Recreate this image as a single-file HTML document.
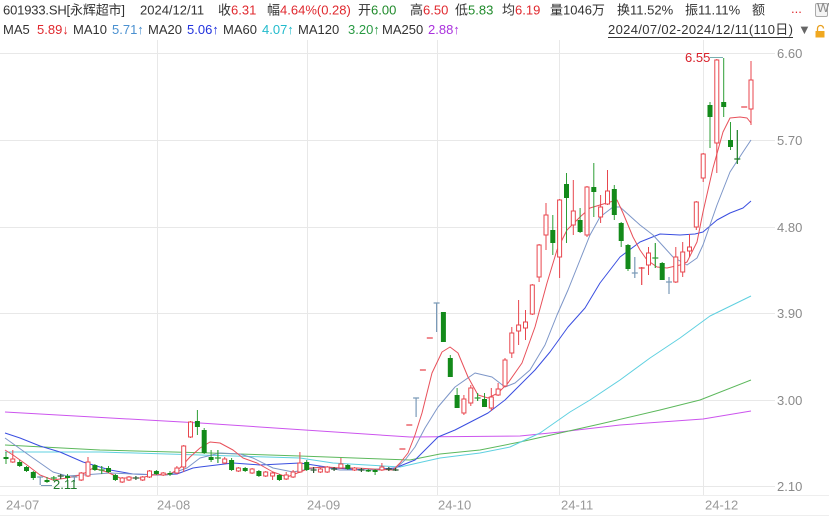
<!DOCTYPE html>
<html><head><meta charset="utf-8"><style>
html,body{margin:0;padding:0;background:#fff;}
svg{display:block;}
text{font-family:"Liberation Sans","Noto Sans CJK SC",sans-serif;font-size:13px;}
</style></head><body>
<svg width="829" height="516" viewBox="0 0 829 516" xmlns="http://www.w3.org/2000/svg">
<rect width="829" height="516" fill="#fff"/>
<g fill="#333">
<text x="3" y="14.5" textLength="122">601933.SH[永辉超市]</text>
<text x="140" y="14.5">2024/12/11</text>
<text x="218" y="14.5">收<tspan fill="#e0282e">6.31</tspan></text>
<text x="267" y="14.5">幅<tspan fill="#e0282e">4.64%(0.28)</tspan></text>
<text x="358" y="14.5">开<tspan fill="#1f8a2a">6.00</tspan></text>
<text x="410" y="14.5">高<tspan fill="#e0282e">6.50</tspan></text>
<text x="455" y="14.5">低<tspan fill="#1f8a2a">5.83</tspan></text>
<text x="502" y="14.5">均<tspan fill="#e0282e">6.19</tspan></text>
<text x="550" y="14.5">量1046万</text>
<text x="617" y="14.5">换11.52%</text>
<text x="685" y="14.5">振11.11%</text>
<text x="752" y="14.5">额</text>
</g>
<text x="791" y="13" font-size="11" fill="#e0282e">...</text>
<rect x="815.5" y="3.5" width="12" height="13" rx="1.5" fill="#f4f4f4" stroke="#aaa"/>
<text x="817" y="12" font-size="6" fill="#888">WP</text>
<g fill="#333">
<text x="3" y="34">MA5</text>
<text x="73" y="34">MA10</text>
<text x="148" y="34">MA20</text>
<text x="223" y="34">MA60</text>
<text x="298" y="34">MA120</text>
<text x="382" y="34">MA250</text>
<text x="608" y="34" textLength="185">2024/07/02-2024/12/11(110日)</text>
</g>
<line x1="608" y1="37.5" x2="793" y2="37.5" stroke="#333" stroke-width="1"/>
<text x="37" y="34" fill="#e0282e">5.89↓</text>
<text x="112" y="34" fill="#4a90d0">5.71↑</text>
<text x="187" y="34" fill="#2233dd">5.06↑</text>
<text x="262" y="34" fill="#22bbcc">4.07↑</text>
<text x="348" y="34" fill="#2a9a44">3.20↑</text>
<text x="428" y="34" fill="#aa33dd">2.88↑</text>
<text x="798" y="34" font-size="11" fill="#666">▼</text>
<path d="M817.5 31 V28.5 A3 3 0 0 1 823.5 28.5" fill="none" stroke="#e8a020" stroke-width="1.3"/>
<rect x="815.5" y="31" width="9" height="6.5" fill="#f0a820"/>

<g stroke="#e8e8e8" stroke-width="1">
<line x1="0" y1="53.5" x2="775" y2="53.5"/>
<line x1="0" y1="140.5" x2="775" y2="140.5"/>
<line x1="0" y1="227.5" x2="775" y2="227.5"/>
<line x1="0" y1="313.5" x2="775" y2="313.5"/>
<line x1="0" y1="400.5" x2="775" y2="400.5"/>
<line x1="0" y1="486.5" x2="775" y2="486.5"/>
<line x1="157.5" y1="40" x2="157.5" y2="495"/>
<line x1="307.5" y1="40" x2="307.5" y2="495"/>
<line x1="437.5" y1="40" x2="437.5" y2="495"/>
<line x1="559.5" y1="40" x2="559.5" y2="495"/>
<line x1="703.5" y1="40" x2="703.5" y2="495"/>
</g>
<line x1="0" y1="495.5" x2="829" y2="495.5" stroke="#eee"/>
<line x1="0" y1="515.5" x2="829" y2="515.5" stroke="#eee"/>
<g fill="#8a8a8a">
<text x="777" y="58">6.60</text>
<text x="777" y="145">5.70</text>
<text x="777" y="232">4.80</text>
<text x="777" y="318">3.90</text>
<text x="777" y="405">3.00</text>
<text x="777" y="491">2.10</text>
</g>
<g fill="#999">
<text x="6" y="509.5">24-07</text>
<text x="157" y="509.5">24-08</text>
<text x="307" y="509.5">24-09</text>
<text x="438" y="509.5">24-10</text>
<text x="561" y="509.5">24-11</text>
<text x="705" y="509.5">24-12</text>
</g>

<g fill="none" stroke-width="1" stroke-linejoin="round">
<polyline stroke="#cc55ee" points="5,412 200,423 410,437 520,436 560,432 620,425 703,419 751,411"/>
<polyline stroke="#5cb85c" points="5,445 100,450 210,453 300,456 410,460 440,454 480,450 520,442 560,433 600,424 660,410 700,400 751,380"/>
<polyline stroke="#5fd0e0" points="5,452 100,452 200,455 300,458 333,463 400,467 440,458 480,453 510,447 540,433 570,412 590,400 620,380 650,358 680,338 710,316 751,296"/>
<polyline stroke="#3a4ee0" points="5,433 20,438 40,446 60,452 83,462 110,470 133,474 157,475 177,474 193,468 200,467 233,463 260,465 300,463 333,468 367,470 395,468 415,460 425,450 438,437 455,430 488,413 505,400 520,385 535,370 550,352 568,327 585,308 600,283 620,257 640,242 660,234 680,235 695,234 703,232 717,220 730,213 743,208 751,201"/>
<polyline stroke="#7d96c8" points="5,438 33,458 53,472 67,476 83,475 110,473 133,474 167,475 187,468 200,458 220,453 240,454 253,458 273,468 293,472 320,467 340,470 380,470 395,469 405,460 415,447 425,428 438,407 455,387 475,373 492,377 505,387 515,383 530,370 545,345 557,315 568,290 580,260 590,235 600,217 613,207 620,207 640,225 653,235 673,257 687,265 697,258 703,245 717,205 730,172 743,152 751,140"/>
<polyline stroke="#e8505a" points="5,450 13,455 27,465 40,475 53,480 67,478 80,475 87,472 93,468 107,472 120,478 140,478 153,475 170,474 180,468 190,457 200,448 210,442 220,443 233,450 243,458 257,463 273,472 287,477 300,472 310,468 327,467 340,468 357,468 373,469 393,470 400,463 408,453 415,435 422,413 432,373 442,352 450,347 458,353 468,377 478,395 488,398 498,393 508,383 522,363 535,327 547,283 557,250 567,230 580,217 590,208 600,205 610,202 617,200 623,213 633,237 640,250 647,260 657,267 667,268 680,265 687,262 697,242 703,212 713,168 723,132 730,118 740,117 747,118 751,123"/>
</g>

<path fill="none" stroke="#e8464e" stroke-width="1" d="M12.8 450V459M12.8 462V463M81.2 472V473M81.2 480V481M88 457V462M88 476V477M122.2 477V478M122.2 482V483M129 476V477M129 480V481M142.7 476V477M142.7 480V481M149.5 470V471M149.5 477V478M163.2 472V473M163.2 475V476M176.9 466V468M176.9 473V474M183.7 445V446M183.7 467V472M190.5 421V422M190.5 437V438M224.7 457V459M224.7 463V464M238.4 467V468M238.4 471V472M252.1 468V469M252.1 473V474M265.7 471V472M265.7 476V477M272.6 472V473M272.6 476V480M286.2 472V475M286.2 479V480M293.1 470V472M293.1 477V478M299.9 452V463M299.9 472V473M320.4 468V469M320.4 472V473M327.2 466V467M327.2 472V473M340.9 458V464M340.9 468V469M354.6 467V468M354.6 470V471M381.9 463V467M381.9 470V471M463.9 395V399M463.9 413V415M470.8 385V388M470.8 403V406M491.3 388V397M491.3 408V411M498.1 383V389M498.1 395V396M505 358V360M505 386V387M511.8 327V333M511.8 353V358M518.6 300V325M518.6 331V345M525.5 310V322M525.5 328V340M532.3 284V285M532.3 314V315M539.1 244V245M539.1 277V282M546 203V215M546 235V250M559.6 199V200M559.6 257V278M573.3 180V211M573.3 225V235M587 186V187M587 235V237M600.6 195V207M600.6 217V223M607.5 170V191M607.5 204V205M648.5 247V253M648.5 265V275M675.8 247V257M675.8 282V283M682.7 242V252M682.7 272V277M689.5 234V247M689.5 251V257M696.3 201V202M696.3 227V230M703.2 153V154M703.2 178V182M716.8 59V60M716.8 143V173M751 61V80M751 109V125"/>
<g fill="#fff" stroke="#e8464e" stroke-width="1">
<rect x="10.8" y="459" width="4" height="3"/>
<rect x="79.2" y="473" width="4" height="7"/>
<rect x="86" y="462" width="4" height="14"/>
<rect x="120.2" y="478" width="4" height="4"/>
<rect x="127" y="477" width="4" height="3"/>
<rect x="140.7" y="477" width="4" height="3"/>
<rect x="147.5" y="471" width="4" height="6"/>
<rect x="161.2" y="473" width="4" height="2"/>
<rect x="174.9" y="468" width="4" height="5"/>
<rect x="181.7" y="446" width="4" height="21"/>
<rect x="188.5" y="422" width="4" height="15"/>
<rect x="222.7" y="459" width="4" height="4"/>
<rect x="236.4" y="468" width="4" height="3"/>
<rect x="250.1" y="469" width="4" height="4"/>
<rect x="263.7" y="472" width="4" height="4"/>
<rect x="270.6" y="473" width="4" height="3"/>
<rect x="284.2" y="475" width="4" height="4"/>
<rect x="291.1" y="472" width="4" height="5"/>
<rect x="297.9" y="463" width="4" height="9"/>
<rect x="318.4" y="469" width="4" height="3"/>
<rect x="325.2" y="467" width="4" height="5"/>
<rect x="338.9" y="464" width="4" height="4"/>
<rect x="352.6" y="468" width="4" height="2"/>
<rect x="379.9" y="467" width="4" height="3"/>
<rect x="461.9" y="399" width="4" height="14"/>
<rect x="468.8" y="388" width="4" height="15"/>
<rect x="489.3" y="397" width="4" height="11"/>
<rect x="496.1" y="389" width="4" height="6"/>
<rect x="503" y="360" width="4" height="26"/>
<rect x="509.8" y="333" width="4" height="20"/>
<rect x="516.6" y="325" width="4" height="6"/>
<rect x="523.5" y="322" width="4" height="6"/>
<rect x="530.3" y="285" width="4" height="29"/>
<rect x="537.1" y="245" width="4" height="32"/>
<rect x="544" y="215" width="4" height="20"/>
<rect x="557.6" y="200" width="4" height="57"/>
<rect x="571.3" y="211" width="4" height="14"/>
<rect x="585" y="187" width="4" height="48"/>
<rect x="598.6" y="207" width="4" height="10"/>
<rect x="605.5" y="191" width="4" height="13"/>
<rect x="646.5" y="253" width="4" height="12"/>
<rect x="673.8" y="257" width="4" height="25"/>
<rect x="680.7" y="252" width="4" height="20"/>
<rect x="687.5" y="247" width="4" height="4"/>
<rect x="694.3" y="202" width="4" height="25"/>
<rect x="701.2" y="154" width="4" height="24"/>
<rect x="714.8" y="60" width="4" height="83"/>
<rect x="749" y="80" width="4" height="29"/>
</g>
<path fill="none" stroke="#2e9e36" stroke-width="1" d="M6 452V464M19.7 460V467M26.5 466V472M33.3 471V480M47 477V483M67.5 474V480M94.9 464V471M108.5 466V473M115.4 474V481M156.4 470V475M170 471V476M197.4 410V435M204.2 428V454M211.1 450V462M231.6 458V471M245.2 467V472M258.9 470V477M279.4 474V481M306.7 460V471M347.8 464V470M368.3 469V472M375.1 469V475M443.4 312V342M450.3 355V377M457.1 388V408M484.5 393V407M552.8 215V255M566.5 173V243M580.1 208V233M593.8 163V217M614.3 185V220M621.2 222V247M628 244V271M662.2 262V280M710 102V148M723.7 58V117M730.5 122V150"/>
<g fill="#138a1a">
<rect x="3.5" y="457" width="5" height="2"/>
<rect x="17.2" y="462" width="5" height="4"/>
<rect x="24" y="467" width="5" height="4"/>
<rect x="30.8" y="472" width="5" height="6"/>
<rect x="44.5" y="480" width="5" height="2"/>
<rect x="65" y="476" width="5" height="2"/>
<rect x="92.4" y="465" width="5" height="5"/>
<rect x="106" y="468" width="5" height="4"/>
<rect x="112.9" y="475" width="5" height="5"/>
<rect x="153.9" y="471" width="5" height="3"/>
<rect x="167.5" y="473" width="5" height="1.5"/>
<rect x="194.9" y="421" width="5" height="6"/>
<rect x="201.7" y="430" width="5" height="23"/>
<rect x="208.6" y="457" width="5" height="3"/>
<rect x="229.1" y="460" width="5" height="10"/>
<rect x="242.7" y="468" width="5" height="3"/>
<rect x="256.4" y="471" width="5" height="5"/>
<rect x="276.9" y="475" width="5" height="5"/>
<rect x="304.2" y="462" width="5" height="8"/>
<rect x="345.3" y="465" width="5" height="4"/>
<rect x="365.8" y="470" width="5" height="1.5"/>
<rect x="372.6" y="470" width="5" height="2"/>
<rect x="440.9" y="312" width="5" height="30"/>
<rect x="447.8" y="358" width="5" height="19"/>
<rect x="454.6" y="395" width="5" height="13"/>
<rect x="482" y="399" width="5" height="8"/>
<rect x="550.3" y="230" width="5" height="13"/>
<rect x="564" y="184" width="5" height="14"/>
<rect x="577.6" y="220" width="5" height="12"/>
<rect x="591.3" y="187" width="5" height="5"/>
<rect x="611.8" y="189" width="5" height="26"/>
<rect x="618.7" y="223" width="5" height="18"/>
<rect x="625.5" y="245" width="5" height="24"/>
<rect x="659.7" y="263" width="5" height="17"/>
<rect x="707.5" y="105" width="5" height="12"/>
<rect x="721.2" y="102" width="5" height="5"/>
<rect x="728" y="140" width="5" height="7"/>
</g>
<path fill="none" stroke="#7a9ab8" stroke-width="1.2" d="M37.2 477h6M40.2 477V485M71.4 477h6M74.4 475V482M413.1 398h6M416.1 398V417M433.6 303h6M436.6 303V332M631.8 273h6M634.8 257V278M666 282h6M669 277V294"/>
<path fill="none" stroke="#2e9e36" stroke-width="1.2" d="M50.8 478h6M53.8 476V481M98.7 470h6M101.7 466V474M214.9 458h6M217.9 450V463M474.6 398h6M477.6 393V401M652.3 258h6M655.3 243V268"/>
<path fill="none" stroke="#2f5a34" stroke-width="1.2" d="M57.7 476h6M60.7 474V479M132.9 478h6M135.9 476V480M310.6 470h6M313.6 467V473M331.1 469h6M334.1 467V471M358.4 470h6M361.4 468V472M385.8 469h6M388.8 467V471M392.6 470h6M395.6 468V471"/>
<path fill="none" stroke="#1a7a22" stroke-width="1.2" d="M734.3 159h6M737.3 130V164"/>
<path fill="none" stroke="#e8464e" stroke-width="1.2" d="M399.4 449h6M406.3 425h6M419.9 370h6M426.8 338h6M638.7 268h6M641.7 267V285M741.2 107h6"/>

<line x1="41" y1="485.5" x2="52" y2="485.5" stroke="#7a9ab8"/>
<text x="53" y="489" fill="#1f7a2a">2.11</text>
<line x1="710" y1="57.5" x2="723" y2="57.5" stroke="#7ab0b0"/>
<text x="685" y="62" fill="#d8202a">6.55</text>
</svg>
</body></html>
